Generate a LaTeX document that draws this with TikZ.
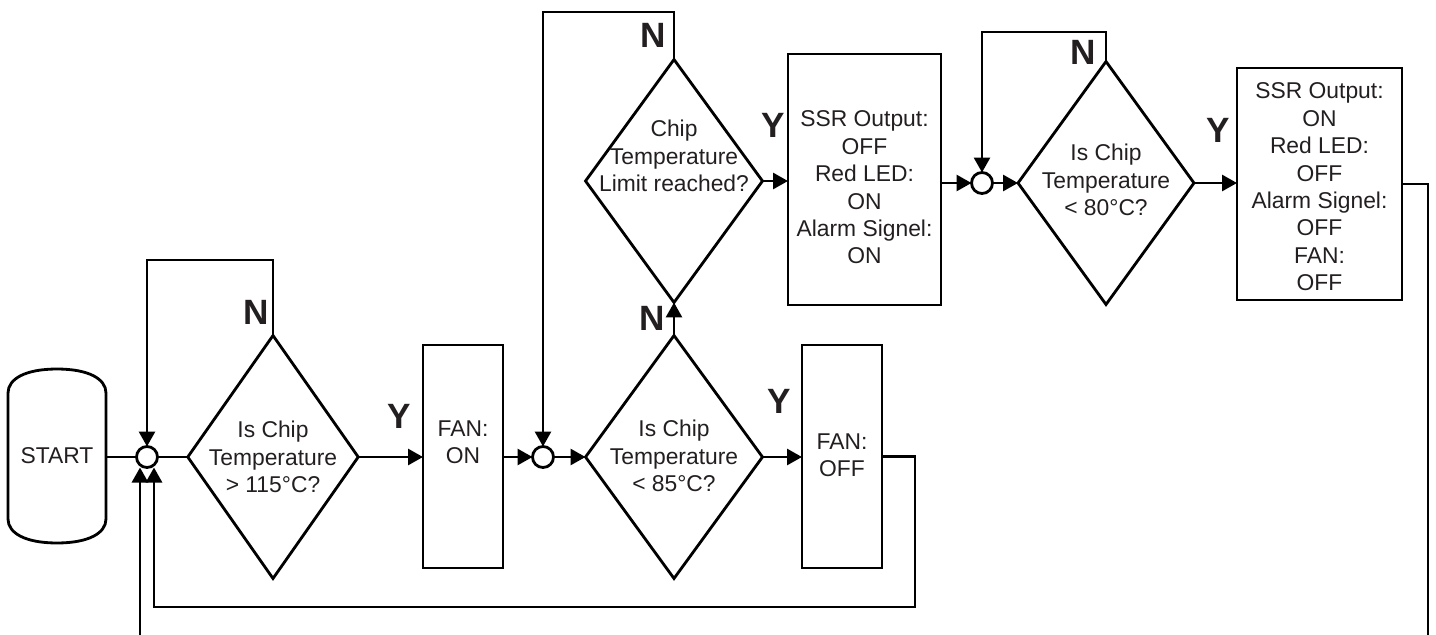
\documentclass[tikz,border=0pt]{standalone}
\usepackage{fontspec}
\setmainfont{Liberation Sans}
\usetikzlibrary{arrows.meta,shapes.geometric,calc,backgrounds}
\definecolor{txt}{HTML}{231F20}
\begin{document}
\begin{tikzpicture}[x=0.02cm,y=-0.02cm,
  line width=1.6pt,
  every node/.style={inner sep=0pt,outer sep=0pt},
  dia/.style={draw,diamond,minimum width=3.54cm,minimum height=4.86cm},
  boxnode/.style={draw,rectangle},
  junc/.style={draw,circle,fill=white,minimum size=0.42cm},
  txtnode/.style={align=center,text=txt,font=\fontsize{13pt}{15.6pt}\selectfont},
  yn/.style={text=txt,font=\fontsize{20pt}{24pt}\selectfont\bfseries},
  conn/.style={line width=1.6pt},
  arr/.style={conn,-{Triangle[length=0.3cm,width=0.32cm]}}
]
\useasboundingbox (0,0) rectangle (1436,635);

% START terminator
\node[minimum width=1.96cm,minimum height=3.48cm] (start) at (57,456) {};
\node[txtnode] (startt) at (start) {START};
\draw ($(start.north west)+(0,24)$) .. controls ($(start.north west)+(0,10)$) and ($(start.north)+(-32,0)$) .. (start.north)
  .. controls ($(start.north)+(32,0)$) and ($(start.north east)+(0,10)$) .. ($(start.north east)+(0,24)$)
  -- ($(start.south east)+(0,-24)$)
  .. controls ($(start.south east)+(0,-10)$) and ($(start.south)+(32,0)$) .. (start.south)
  .. controls ($(start.south)+(-32,0)$) and ($(start.south west)+(0,-10)$) .. ($(start.south west)+(0,-24)$)
  -- cycle;

% bottom row
\node[junc] (c1) at (147,457) {};
\node[dia,minimum width=3.41cm] (d1) at (273,457) {};
\node[txtnode] (d1t) at (273,457) {Is Chip\\Temperature\\> 115°C?};
\node[boxnode,minimum width=1.6cm,minimum height=4.46cm] (fan1) at (463,456.5) {};
\node[txtnode] (fan1t) at (463,442) {FAN:\\ON};
\node[junc] (c2) at (543,457) {};
\node[dia] (d2) at (674,457) {};
\node[txtnode] (d2t) at (674,456) {Is Chip\\Temperature\\< 85°C?};
\node[boxnode,minimum width=1.6cm,minimum height=4.46cm] (fan2) at (842,456.5) {};
\node[txtnode] (fan2t) at (842,455) {FAN:\\OFF};

% top row
\node[dia] (d3) at (674,181) {};
\node[txtnode] (d3t) at (674,156) {Chip\\Temperature\\Limit reached?};
\node[boxnode,minimum width=3.06cm,minimum height=5.02cm] (ssr1) at (864.5,179.5) {};
\node[txtnode] (ssr1t) at (864.5,187.5) {SSR Output:\\OFF\\Red LED:\\ON\\Alarm Signel:\\ON};
\node[junc] (c3) at (982,183) {};
\node[dia,minimum width=3.52cm] (d4) at (1106,183) {};
\node[txtnode] (d4t) at (1106,180) {Is Chip\\Temperature\\< 80°C?};
\node[boxnode,minimum width=3.3cm,minimum height=4.64cm] (ssr2) at (1319.5,184) {};
\node[txtnode] (ssr2t) at (1319.5,187) {SSR Output:\\ON\\Red LED:\\OFF\\Alarm Signel:\\OFF\\FAN:\\OFF};

% Y / N labels
\node[yn] (n1) at (256,312) {N};
\node[yn] (y1) at (399,416) {Y};
\node[yn] (y2) at (779,401) {Y};
\node[yn] (n2) at (652,318) {N};
\node[yn] (n3) at (653,35) {N};
\node[yn] (y3) at (773,125) {Y};
\node[yn] (n4) at (1083,52) {N};
\node[yn] (y4) at (1218,130) {Y};

% helper coordinates
\coordinate (t1) at (147,260);
\coordinate (t2) at (543,12);
\coordinate (t3) at (982,32);
\coordinate (k1) at (915,607);
\coordinate (k2) at (154,607);
\coordinate (b1) at (140,635);
\coordinate (b2) at (1428,635);

\begin{scope}[on background layer]
\begin{scope}[line width=1.6pt]
\draw[conn] (start.east |- c1) -- (c1.west);
\draw[conn] (c1.east) -- (d1.west);
\draw[arr] (d1.east) -- (fan1.west |- d1.east);
\draw[arr] (fan1.east |- c2) -- (c2.west);
\draw[arr] (c2.east) -- (d2.west);
\draw[arr] (d2.east) -- (fan2.west |- d2.east);
\draw[arr] (d2.north) -- (d3.south);
\draw[arr] (d3.east) -- (ssr1.west |- d3.east);
\draw[arr] (ssr1.east |- c3) -- (c3.west);
\draw[arr] (c3.east) -- (d4.west);
\draw[arr] (d4.east) -- (ssr2.west |- d4.east);
\draw[arr] (d1.north) |- (t1) -- (c1.north);
\draw[arr] (d3.north) |- (t2) -- (c2.north);
\draw[arr] (d4.north) |- (t3) -- (c3.north);
\draw[arr] (fan2.east) -| (k1) -- (k2) -- (k2 |- c1.south);
\draw[arr] (b1) -- (b1 |- c1.south);
\draw[conn] (ssr2.east) -| (b2);
\end{scope}
\end{scope}
\end{tikzpicture}
\end{document}
